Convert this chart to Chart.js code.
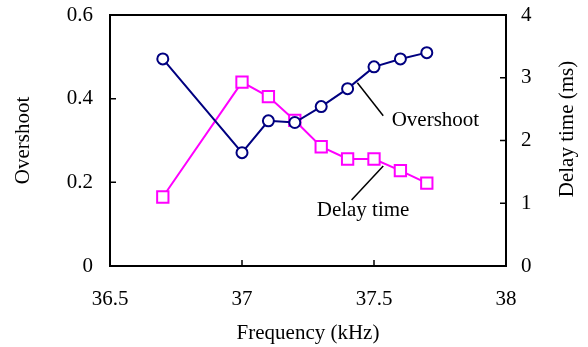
<!DOCTYPE html>
<html>
<head>
<meta charset="utf-8">
<script src="https://cdn.jsdelivr.net/npm/chart.js@4.4.1/dist/chart.umd.min.js"></script>
<style>
  html, body { margin: 0; padding: 0; background: #fff; }
  #wrap { width: 588px; height: 347px; }
</style>
</head>
<body>
<div id="wrap"><canvas id="chart" width="588" height="347"></canvas></div>
<script>
// datos
const frecuencias = [36.7, 37.0, 37.1, 37.2, 37.3, 37.4, 37.5, 37.6, 37.7];
const overshoot = [0.495, 0.271, 0.347, 0.343, 0.381, 0.424, 0.476, 0.495, 0.510];
const delayTime = [1.10, 2.93, 2.70, 2.32, 1.90, 1.705, 1.705, 1.52, 1.32];

const xTicks = [36.5, 37, 37.5, 38];
const yLeftTicks = [0, 0.2, 0.4, 0.6];
const yRightTicks = [0, 1, 2, 3, 4];

const fuente = "'Liberation Serif', 'Times New Roman', serif";
const tamFuente = 21;

const canvas = document.getElementById("chart").getContext("2d");

// etiquetas con linea guia (en coordenadas de datos)
const etiquetas = [
    { texto: "Overshoot", eje: "y", x: 37.567, y: 0.347, linea: [37.437, 0.438, 37.535, 0.359] },
    { texto: "Delay time", eje: "y1", x: 37.283, y: 0.877, linea: [37.535, 1.594, 37.415, 1.052] },
];

// quitar el relleno automatico de las escalas
const fijarTam = (s, prop, valor) => {
    s[prop] = valor;
    s.paddingTop = 0;
    s.paddingBottom = 0;
    s.paddingLeft = 0;
    s.paddingRight = 0;
};

const pluginMarco = {
    id: "marco",
    afterDraw(chart) {
        const ctx = chart.ctx;
        const a = chart.chartArea;
        const sx = chart.scales.x;
        const sy = chart.scales.y;
        const sy1 = chart.scales.y1;
        ctx.save();
        ctx.strokeStyle = "#000";
        ctx.lineWidth = 2;
        ctx.strokeRect(a.left, a.top, a.right - a.left, a.bottom - a.top);

        // marcas hacia adentro
        ctx.lineWidth = 1.5;
        ctx.beginPath();
        xTicks.forEach(v => {
            const px = sx.getPixelForValue(v);
            ctx.moveTo(px, a.bottom);
            ctx.lineTo(px, a.bottom - 6);
        });
        yLeftTicks.forEach(v => {
            const py = sy.getPixelForValue(v);
            ctx.moveTo(a.left, py);
            ctx.lineTo(a.left + 6, py);
        });
        yRightTicks.forEach(v => {
            const py = sy1.getPixelForValue(v);
            ctx.moveTo(a.right, py);
            ctx.lineTo(a.right - 6, py);
        });
        ctx.stroke();

        // etiquetas de series
        ctx.font = tamFuente + "px " + fuente;
        ctx.fillStyle = "#000";
        ctx.textBaseline = "middle";
        ctx.textAlign = "left";
        etiquetas.forEach(e => {
            const esc = chart.scales[e.eje];
            ctx.lineWidth = 1.5;
            ctx.beginPath();
            ctx.moveTo(sx.getPixelForValue(e.linea[0]), esc.getPixelForValue(e.linea[1]));
            ctx.lineTo(sx.getPixelForValue(e.linea[2]), esc.getPixelForValue(e.linea[3]));
            ctx.stroke();
            ctx.fillText(e.texto, sx.getPixelForValue(e.x), esc.getPixelForValue(e.y));
        });

        // titulo eje derecho (girado hacia arriba)
        ctx.translate(567, 129);
        ctx.rotate(-Math.PI / 2);
        ctx.textAlign = "center";
        ctx.fillText("Delay time (ms)", 0, 0);
        ctx.restore();
    },
};

const data = {
    datasets: [
        {
            label: "Overshoot",
            data: frecuencias.map((f, i) => ({ x: f, y: overshoot[i] })),
            yAxisID: "y",
            borderColor: "#000080",
            backgroundColor: "#ffffff",
            borderWidth: 2,
            pointStyle: "circle",
            pointRadius: 5.5,
            pointBorderWidth: 2,
        },
        {
            label: "Delay time",
            data: frecuencias.map((f, i) => ({ x: f, y: delayTime[i] })),
            yAxisID: "y1",
            borderColor: "#ff00ff",
            backgroundColor: "#ffffff",
            borderWidth: 2,
            pointStyle: "rect",
            pointRadius: 8,
            pointBorderWidth: 2,
        },
    ],
};

const config = {
    type: "line",
    data: data,
    options: {
        responsive: false,
        animation: false,
        layout: { padding: { top: 15, left: 0, right: 0, bottom: 0 } },
        plugins: {
            legend: { display: false },
            tooltip: { enabled: false },
        },
        scales: {
            x: {
                type: "linear",
                min: 36.5,
                max: 38,
                afterBuildTicks: s => { s.ticks = xTicks.map(v => ({ value: v })); },
                afterFit: s => fijarTam(s, "height", 81),
                grid: { display: false, drawTicks: false },
                border: { display: false },
                ticks: {
                    padding: 21,
                    color: "#000",
                    font: { family: fuente, size: tamFuente },
                    maxRotation: 0,
                    callback: v => String(v),
                },
                title: {
                    display: true,
                    text: "Frequency (kHz)",
                    color: "#000",
                    font: { family: fuente, size: tamFuente },
                    padding: 1,
                },
            },
            y: {
                position: "left",
                min: 0,
                max: 0.6,
                afterBuildTicks: s => { s.ticks = yLeftTicks.map(v => ({ value: v })); },
                afterFit: s => fijarTam(s, "width", 110),
                grid: { display: false, drawTicks: false },
                border: { display: false },
                ticks: {
                    padding: 17,
                    color: "#000",
                    font: { family: fuente, size: tamFuente },
                    callback: v => String(v),
                },
                title: {
                    display: true,
                    text: "Overshoot",
                    color: "#000",
                    font: { family: fuente, size: tamFuente },
                    padding: 11,
                },
            },
            y1: {
                position: "right",
                min: 0,
                max: 4,
                afterBuildTicks: s => { s.ticks = yRightTicks.map(v => ({ value: v })); },
                afterFit: s => fijarTam(s, "width", 82),
                grid: { display: false, drawTicks: false },
                border: { display: false },
                ticks: {
                    padding: 15,
                    color: "#000",
                    font: { family: fuente, size: tamFuente },
                    callback: v => String(v),
                },
            },
        },
    },
    plugins: [pluginMarco],
};

const chart = new Chart(canvas, config);
</script>
</body>
</html>
